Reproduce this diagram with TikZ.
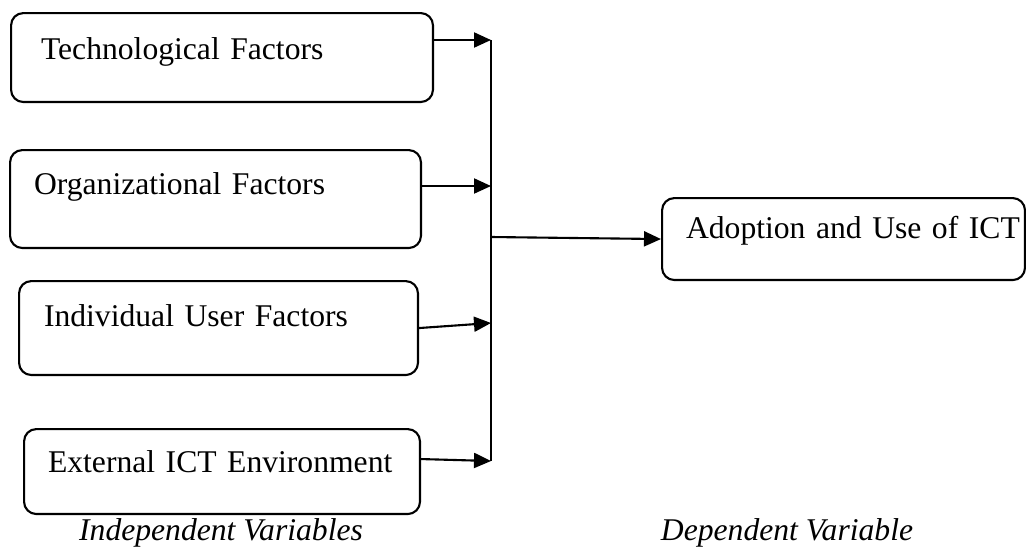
\documentclass[tikz,border=0pt]{standalone}
\usepackage{fontspec}
\setmainfont{Liberation Serif}
\usetikzlibrary{arrows.meta, positioning}

\begin{document}
\begin{tikzpicture}[x=0.02cm, y=-0.02cm,
  font=\fontsize{18}{22}\selectfont, line width=1.2pt,
  fac/.style={rectangle, rounded corners=7pt, draw, anchor=north west,
              align=left, inner ysep=0pt, inner xsep=0.48cm,
              text height=0.88cm, text depth=0.86cm},
  lbl/.style={anchor=base, font=\fontsize{18}{22}\selectfont\itshape},
  ar/.style={-{Triangle[length=0.34cm, width=0.3cm]}}]
\useasboundingbox (0,0) rectangle (1026,548);
% independent variables
\node[fac, text width=7.24cm, inner xsep=0.6cm, text height=0.92cm] (tech) at (10,12) {\mbox{Technological Factors}};
\node[fac, text width=7.26cm, text depth=1.08cm] (org) at (9,149) {\mbox{Organizational Factors}};
\node[fac, text width=6.98cm, inner xsep=0.5cm, text height=0.9cm, text depth=0.98cm] (ind) at (18,280) {\mbox{Individual User Factors}};
\node[fac, text width=6.96cm, text height=0.86cm, text depth=0.84cm] (ext) at (23,428) {\mbox{External ICT Environment}};
% dependent variable
\node[fac, text width=6.3cm, text height=0.8cm, text depth=0.84cm] (adopt) at (661,197) {\mbox{Adoption and Use of ICT}};
% joining line
\coordinate (jtop) at (491,40);
\coordinate (jorg) at (491,186);
\coordinate (jmid) at (491,237);
\coordinate (jind) at (491,323);
\coordinate (jbot) at (491,461);
\draw (jtop)--(jbot);
\draw[ar](tech.east |- jtop)--(jtop);
\draw[ar](org.east |- jorg)--(jorg);
\draw[ar](ind.east)--(jind);
\draw[ar]([yshift=0.25cm]ext.east)--(jbot);
\draw[ar](jmid)--(adopt.west);
% captions
\node[lbl] (indep) at (221,540) {Independent Variables};
\node[lbl] (dep) at (787,540) {Dependent Variable};
\end{tikzpicture}
\end{document}
